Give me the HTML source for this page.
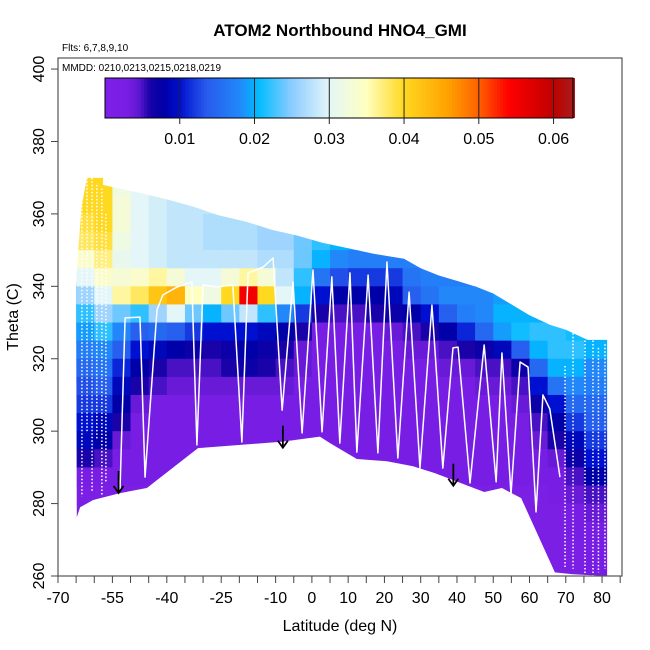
<!DOCTYPE html>
<html><head><meta charset="utf-8">
<style>
html,body{margin:0;padding:0;background:#fff;}
svg{display:block;font-family:"Liberation Sans",Arial,sans-serif;}
</style></head>
<body>
<svg id="chart" width="650" height="650" viewBox="0 0 650 650">
<text x="340" y="36" text-anchor="middle" font-size="17" font-weight="bold">ATOM2 Northbound HNO4_GMI</text>
<text x="62" y="51" font-size="10">Flts: 6,7,8,9,10</text>
<defs><clipPath id="env"><polygon id="envpoly"/></clipPath></defs>
<g id="heat" clip-path="url(#env)"></g>
<g id="tracks"></g>
<g id="arrows"></g>
<rect x="58" y="58" width="564" height="518" fill="none" stroke="#555" stroke-width="1.2"/>
<text x="62" y="71" font-size="10">MMDD: 0210,0213,0215,0218,0219</text>
<g id="cbar"></g>
<g id="xaxis"></g>
<g id="yaxis"></g>
<text x="340" y="631" text-anchor="middle" font-size="16">Latitude (deg N)</text>
<text transform="translate(18,317) rotate(-90)" text-anchor="middle" font-size="16">Theta (C)</text>
</svg>
<script>
// ---- data ----
const colLats = [-70,-65,-60,-55,-50,-45,-40,-35,-30,-25,-20,-15,-10,-5,0,5,10,15,20,25,30,35,40,45,50,55,60,65,70,75,80];
const rowThetas = [365,360,355,350,345,340,335,330,325,320,315,310,305,300,295,290,285,280,275,270,265,260];
const r365=[30,40,40,32,30,29,28,28,28,28,27,27,26,26,25,25,24,24,24,22,20,20,20,20,20,20,20,20,20,20,20];
const r360=[30,40,40,33,30,29,28,28,28,27,27,26,26,25,25,24,24,23,22,21,20,20,20,20,20,20,20,20,20,20,20];
const r355=[30,39,40,33,30,29,28,28,27,27,27,26,26,25,24,23,22,21,20,20,19,19,19,19,19,19,19,19,19,19,19];
const r350=[30,38,39,32,30,29,28,28,27,27,27,26,26,24,22,20,19,18,18,18,18,18,18,18,18,18,18,18,18,18,18];
const r345=[27,34,37,31,30,29,28,28,28,28,28,27,27,24,20,18,17,17,17,17,18,18,18,18,18,18,18,18,18,18,18];
const r340=[24,30,34,33,34,36,33,30,30,33,36,33,28,22,16,13,12,12,12,16,17,17,17,17,17,17,17,17,17,17,17];
const r335=[22,26,30,36,38,42,44,35,32,40,55,40,30,20,10,8,8,8,9,14,16,18,18,18,19,19,19,19,19,19,19];
const r330=[19,22,26,24,22,26,30,24,20,24,28,22,18,12,6,5,5,6,7,8,10,14,17,18,20,20,20,20,20,20,20];
const r325=[17,19,22,18,14,15,14,12,10,10,10,9,8,6,3,3,3,3,4,5,6,8,11,15,19,21,22,22,21,20,20];
const r320=[15,17,18,14,10,9,8,7,6,7,8,7,6,4,3,3,3,3,3,4,4,5,6,7,9,14,20,22,22,20,20];
const r315=[14,15,16,11,8,6,5,5,5,6,7,6,5,4,3,3,3,3,3,3,3,4,4,5,5,7,15,20,20,18,18];
const r310=[12,13,14,9,6,5,4,4,4,4,4,4,4,3,3,3,3,3,3,3,3,3,3,4,4,5,10,16,18,17,17];
const r305=[11,12,12,8,4,3,3,3,3,3,3,3,3,3,3,3,3,3,3,3,3,3,3,3,3,4,7,10,15,15,15];
const r300=[10,10,9,6,3,3,3,3,3,3,3,3,3,3,3,3,3,3,3,3,3,3,3,3,3,3,5,8,12,14,14];
const r295=[8,9,8,4,3,3,3,3,3,3,3,3,3,3,3,3,3,3,3,3,3,3,3,3,3,3,4,6,9,12,12];
const r290=[5,6,5,3,3,3,3,3,3,3,3,3,3,3,3,3,3,3,3,3,3,3,3,3,3,3,3,4,7,10,10];
const r285=[3,3,3,3,3,3,3,3,3,3,3,3,3,3,3,3,3,3,3,3,3,3,3,3,3,3,3,3,5,8,8];
const r280=[2,2,2,2,2,2,2,2,2,2,2,2,2,2,2,2,2,2,2,2,2,2,2,2,2,2,2,3,4,5,5];
const r275=[2,2,2,2,2,2,2,2,2,2,2,2,2,2,2,2,2,2,2,2,2,2,2,2,2,2,2,2,3,4,4];
const r270=[2,2,2,2,2,2,2,2,2,2,2,2,2,2,2,2,2,2,2,2,2,2,2,2,2,2,2,2,3,3,3];
const r265=[2,2,2,2,2,2,2,2,2,2,2,2,2,2,2,2,2,2,2,2,2,2,2,2,2,2,2,2,2,3,3];
const r260=[2,2,2,2,2,2,2,2,2,2,2,2,2,2,2,2,2,2,2,2,2,2,2,2,2,2,2,2,2,3,3];
const gridRows=[r365,r360,r355,r350,r345,r340,r335,r330,r325,r320,r315,r310,r305,r300,r295,r290,r285,r280,r275,r270,r265,r260];
// envelope (lat, theta)
const envLat  =[-65,-64.5,-63.5,-62,-57.6,-57.6,-47.4,-40,-32.7,-26,-18,-11,-4,3,10,17,25.4,30,35,40,45.5,50,55,60,65.6,70,76,81.4,
                81.4,72,67,57.7,52.4,47.5,33.9,27.9,20.7,12.4,5,2.2,-8,-31.4,-45.5,-52.9,-60.3,-63.9,-64.8];
const envTheta=[340,349,362,370,370,368,365.8,364,362,359.7,357.8,355.6,354,352,350.5,349,347.6,345,343,341.5,339.8,338,335,332,329.4,328,325.2,325.2,
                260,260.5,261,281.5,284.3,283.2,288.4,290.3,291.7,292.3,296.7,298.5,297.1,295.3,284.3,282.9,281,279,276.3];
// main flight track
const trackLat  =[-52.9,-51.5,-47.4,-46.0,-42.7,-41.1,-37.2,-33.1,-31.7,-30.0,-26.2,-21.8,-19.3,-17.6,-13.5,-10.7,-8.2,-5.2,-2.7,0.3,2.8,5.5,7.7,10.5,12.4,15.5,18.2,20.7,23.7,26.8,29.8,33.1,36.1,38.9,40.3,43.6,47.5,50.8,52.4,54.9,57.4,59.6,61.8,63.7,65.6,68.4];
const trackTheta=[283.8,331.3,331.5,287.3,333.5,337.6,339.8,341.2,296.2,340.4,339.8,340.4,297.0,343.7,345.3,347.8,305.8,341.2,299.5,344.5,299.8,342.6,296.7,343.7,294.2,343.1,294.0,346.7,292.6,338.4,289.8,334.8,289.8,323.0,323.2,285.7,323.8,286.0,321.6,282.6,319.1,317.7,277.7,310.0,306.1,287.3];
// dotted vertical profiles
const dotLat   =[-65.6,-63.4,-62.0,-60.6,-59.3,-57.9,-56.8,69.8,72.0,75.3,77.5,79.0,80.8];
const dotTop   =[345,370,370,370,368,367,360,318,328,326,326,323,324];
const dotBottom=[278,282,300,283,298,282,286,262,262,260,260,261,262];
// arrows
const arrowLat  =[-53.3,-8.0,39.0];
const arrowTheta=[289,301.5,291];
// ticks
const xTicks=[-70,-65,-60,-55,-50,-45,-40,-35,-30,-25,-20,-15,-10,-5,0,5,10,15,20,25,30,35,40,45,50,55,60,65,70,75,80,85];
const xLabels=[-70,-55,-40,-25,-10,0,10,20,30,40,50,60,70,80];
const yLabels=[260,280,300,320,340,360,380,400];
const cbLabels=[0.01,0.02,0.03,0.04,0.05,0.06];

// ---- scales ----
const X=lat=>58+(lat+70)*3.627;
const Y=th=>576-(th-260)*3.621;
const CBX=v=>105+v/0.0626*468;
const stops=[[0,[128,32,232]],[0.003,[120,30,228]],[0.0045,[96,24,208]],[0.006,[24,2,168]],[0.008,[0,0,168]],[0.01,[0,16,208]],
 [0.0135,[40,90,236]],[0.018,[34,136,250]],[0.0205,[0,188,255]],[0.025,[140,204,255]],[0.03,[228,246,248]],[0.035,[255,255,192]],
 [0.04,[255,216,32]],[0.046,[255,160,0]],[0.05,[255,96,0]],[0.054,[255,0,0]],[0.06,[192,0,0]],[0.0626,[168,28,28]]];
function cmap(v){
  if(v<=stops[0][0])return 'rgb('+stops[0][1]+')';
  for(let i=1;i<stops.length;i++){if(v<=stops[i][0]){const a=stops[i-1],b=stops[i],t=(v-a[0])/(b[0]-a[0]);
    return 'rgb('+a[1].map((c,k)=>Math.round(c+(b[1][k]-c)*t)).join(',')+')';}}
  return 'rgb('+stops[stops.length-1][1]+')';
}
const NS='http://www.w3.org/2000/svg';
function mk(tag,attrs,parent){const e=document.createElementNS(NS,tag);for(const k in attrs)e.setAttribute(k,attrs[k]);parent.appendChild(e);return e;}

document.getElementById('envpoly').setAttribute('points',envLat.map((l,i)=>X(l)+','+Y(envTheta[i])).join(' '));
const heat=document.getElementById('heat');
gridRows.forEach((row,ri)=>{row.forEach((v,ci)=>{
  const x0=X(colLats[ci]),x1=X(colLats[ci]+5),y0=Y(rowThetas[ri]+5),y1=Y(rowThetas[ri]);
  const r=mk('rect',{x:x0,y:y0,width:x1-x0+0.6,height:y1-y0+0.6,fill:cmap(v/1000)},heat);
  
  
});});
const tg=document.getElementById('tracks');
dotLat.forEach((l,i)=>{
  const d=mk('line',{x1:X(l),x2:X(l),y1:Y(dotTop[i]),y2:Y(dotBottom[i]),stroke:'#fff','stroke-width':1.5,'stroke-dasharray':'1.5 2'},tg);
  
  
});
const tr=mk('polyline',{points:trackLat.map((l,i)=>X(l)+','+Y(trackTheta[i])).join(' '),fill:'none',stroke:'#fff','stroke-width':1.5,'stroke-linejoin':'round'},tg);


const ag=document.getElementById('arrows');
arrowLat.forEach((l,i)=>{
  const x=X(l),y=Y(arrowTheta[i]);
  const p=mk('path',{d:`M${x},${y} L${x},${y+22} M${x-5},${y+15} L${x},${y+22} L${x+5},${y+15}`,stroke:'#000','stroke-width':1.8,fill:'none'},ag);
  
  
});
const cb=document.getElementById('cbar');
for(let v=0;v<0.0626;v+=0.0004){
  const s=mk('rect',{x:CBX(v),y:78,width:CBX(0.0004)-CBX(0)+0.5,height:40,fill:cmap(v+0.0002)},cb);
  
  
}
const cbb=mk('rect',{x:105,y:78,width:468,height:40,fill:'none',stroke:'#000','stroke-width':1},cb);


cbLabels.forEach(v=>{
  const l=mk('line',{x1:CBX(v),x2:CBX(v),y1:78,y2:124,stroke:'#222','stroke-width':1},cb);
  
  
  const t=mk('text',{x:CBX(v),y:144,'text-anchor':'middle','font-size':16},cb);
  t.textContent=v.toFixed(2);
  
  
});
const xa=document.getElementById('xaxis');
xTicks.forEach(v=>{
  const l=mk('line',{x1:X(v),x2:X(v),y1:576,y2:583,stroke:'#444','stroke-width':1},xa);
  
  
});
xLabels.forEach(v=>{
  const t=mk('text',{x:X(v),y:603,'text-anchor':'middle','font-size':16},xa);
  t.textContent=v;
  
  
});
const ya=document.getElementById('yaxis');
yLabels.forEach(v=>{
  const l=mk('line',{x1:51,x2:58,y1:Y(v),y2:Y(v),stroke:'#444','stroke-width':1},ya);
  
  
  const t=mk('text',{transform:`translate(44,${Y(v)}) rotate(-90)`,'text-anchor':'middle','font-size':16},ya);
  t.textContent=v;
  
  
});
</script>
</body></html>
